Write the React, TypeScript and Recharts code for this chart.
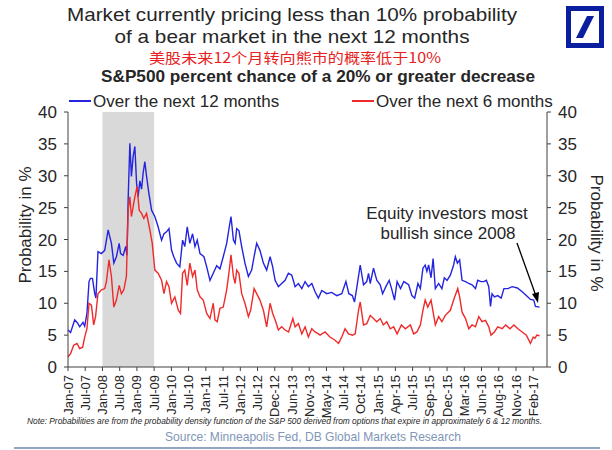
import React from "react";
import { ComposedChart, Line, XAxis, YAxis, ReferenceArea } from "recharts";

// category labels on the x axis (equally spaced, as in the source chart)
const tickLabels = [
  "Jan-07", "Jul-07", "Jan-08", "Jul-08", "Jan-09", "Jul-09", "Jan-10", "Jul-10",
  "Jan-11", "Jul-11", "Jan-12", "Jul-12", "Dec-12", "Jun-13", "Nov-13", "May-14",
  "Jul-14", "Oct-14", "Jan-15", "Apr-15", "Jul-15", "Sep-15", "Dec-15", "Mar-16",
  "Jun-16", "Aug-16", "Nov-16", "Feb-17",
];

const yTicks = [0, 5, 10, 15, 20, 25, 30, 35, 40];

// shaded recession band: Jan-08 .. Jul-09 (positions in tick units)
const bearStart = 2;
const bearEnd = 5;

// 12 month probability (position in tick units, value in %)
const blueX = [
  0, 0.15, 0.39, 0.55, 0.68, 0.87, 0.97, 1.1, 1.22, 1.3, 1.42, 1.55, 1.62, 1.74, 1.94, 2.13,
  2.33, 2.52, 2.66, 2.81, 2.97, 3.05, 3.2, 3.35, 3.42, 3.49, 3.59, 3.68, 3.78, 3.88, 3.98,
  4.07, 4.17, 4.27, 4.36, 4.46, 4.56, 4.69, 4.85, 5.04, 5.23, 5.43, 5.57, 5.72, 5.86, 6.01,
  6.14, 6.3, 6.49, 6.65, 6.78, 6.92, 7.07, 7.23, 7.37, 7.5, 7.66, 7.89, 8.05, 8.24, 8.43,
  8.63, 8.82, 9.01, 9.21, 9.36, 9.46, 9.6, 9.7, 9.79, 9.92, 10.08, 10.27, 10.47, 10.66,
  10.8, 10.95, 11.14, 11.34, 11.53, 11.73, 11.88, 12.02, 12.21, 12.4, 12.6, 12.79, 12.99,
  13.18, 13.37, 13.57, 13.76, 13.95, 14.15, 14.34, 14.53, 14.73, 15.02, 15.3, 15.6, 15.89,
  16.13, 16.3, 16.5, 16.63, 16.77, 16.96, 17.15, 17.34, 17.44, 17.54, 17.73, 17.92, 18.12,
  18.26, 18.45, 18.64, 18.8, 18.95, 19.1, 19.3, 19.49, 19.77, 19.96, 20.12, 20.31, 20.45,
  20.6, 20.73, 20.83, 20.93, 21.07, 21.19, 21.32, 21.51, 21.7, 21.84, 22.0, 22.19, 22.38,
  22.48, 22.6, 22.73, 22.87, 23.07, 23.26, 23.45, 23.65, 23.78, 23.97, 24.13, 24.28, 24.42,
  24.52, 24.61, 24.75, 24.94, 25.14, 25.3, 25.53, 25.78, 26.08, 26.36, 26.6, 26.84, 27.03,
  27.13, 27.37,
];
const blueY = [
  5.8, 5.4, 7.4, 6.9, 6.3, 7.0, 6.4, 8.4, 13.4, 13.9, 13.9, 11.5, 10.8, 18.1, 17.8, 18.3,
  21.5, 19.4, 16.3, 17.3, 19.4, 17.8, 17.5, 18.9, 17.5, 26.2, 35.1, 29.9, 33.0, 34.6, 28.8,
  26.7, 29.2, 27.9, 30.4, 32.2, 29.9, 27.3, 24.6, 23.6, 22.0, 19.9, 20.9, 21.2, 21.7, 18.3,
  17.3, 16.3, 15.7, 19.9, 18.9, 22.0, 19.4, 20.9, 18.9, 19.9, 17.8, 17.3, 15.7, 13.6, 14.7,
  15.9, 15.4, 17.3, 19.4, 22.0, 23.6, 19.9, 19.4, 21.7, 21.4, 18.9, 16.3, 14.2, 15.2,
  17.3, 19.4, 18.3, 16.3, 15.2, 17.3, 15.7, 13.6, 12.6, 13.1, 13.6, 14.7, 14.4,
  12.6, 13.1, 12.3, 13.4, 12.6, 13.1, 11.8, 10.8, 12.0, 11.5, 11.7, 11.2, 11.5,
  13.4, 11.5, 11.2, 10.2, 12.6, 16.0, 12.9, 13.4, 14.7, 13.1, 15.5, 13.6, 12.9,
  11.5, 12.6, 13.6, 12.1, 10.5, 13.4, 12.3, 13.4, 12.9, 11.2, 10.8, 13.1, 12.3,
  15.5, 16.0, 15.0, 16.0, 14.0, 17.0, 12.3, 13.1, 12.3, 14.0, 13.6, 14.4, 16.0,
  17.3, 16.3, 16.8, 13.6, 13.4, 13.1, 12.9, 12.3, 13.6, 13.4, 13.4, 13.6, 12.6,
  9.5, 11.5, 11.0, 11.2, 10.8, 12.3, 12.3, 12.6, 12.4, 11.8, 11.2, 10.6, 10.5,
  9.5, 9.4,
];

// 6 month probability
const redX = [
  0, 0.15, 0.33, 0.52, 0.68, 0.85, 0.97, 1.1, 1.22, 1.36, 1.49, 1.6, 1.74, 1.94, 2.13, 2.23,
  2.38, 2.52, 2.66, 2.81, 2.97, 3.1, 3.24, 3.39, 3.49, 3.59, 3.68, 3.88, 4.01, 4.13, 4.27,
  4.4, 4.56, 4.75, 4.89, 5.04, 5.23, 5.43, 5.57, 5.72, 5.86, 6.01, 6.2, 6.4, 6.53, 6.65,
  6.78, 6.92, 7.07, 7.23, 7.37, 7.5, 7.66, 7.85, 8.05, 8.24, 8.43, 8.53, 8.66, 8.82, 9.01,
  9.21, 9.36, 9.46, 9.6, 9.7, 9.79, 9.92, 10.08, 10.27, 10.47, 10.6, 10.8, 10.95, 11.14,
  11.34, 11.53, 11.73, 11.88, 12.02, 12.21, 12.4, 12.6, 12.8, 13.05, 13.18, 13.37, 13.57,
  13.76, 13.95, 14.15, 14.34, 14.53, 14.63, 14.92, 15.2, 15.5, 15.7, 15.89, 16.08, 16.28,
  16.51, 16.67, 16.86, 16.96, 17.15, 17.34, 17.54, 17.73, 17.92, 18.12, 18.3, 18.5, 18.7,
  18.9, 19.1, 19.35, 19.58, 19.87, 20.06, 20.25, 20.45, 20.6, 20.73, 20.88, 21.07, 21.32,
  21.51, 21.7, 21.9, 22.19, 22.38, 22.62, 22.73, 22.87, 23.07, 23.26, 23.45, 23.65, 23.84,
  24.03, 24.23, 24.42, 24.55, 24.75, 24.94, 25.2, 25.4, 25.65, 25.88, 26.11, 26.36, 26.6,
  26.84, 27.0, 27.1, 27.21, 27.37,
];
const redY = [
  1.6, 2.1, 3.4, 3.7, 2.9, 3.1, 4.7, 6.0, 10.0, 9.7, 6.6, 7.9, 11.5, 12.1, 12.3, 13.4,
  16.8, 14.2, 9.4, 10.5, 12.8, 11.5, 12.1, 14.2, 24.6, 26.7, 23.6, 26.7, 28.3, 24.6, 24.1,
  23.3, 24.1, 21.5, 19.4, 15.2, 14.7, 13.6, 11.5, 13.4, 12.6, 10.0, 11.0, 8.9, 8.4, 14.7,
  15.2, 12.8, 16.3, 14.2, 15.2, 12.1, 11.0, 10.5, 8.4, 7.6, 10.0, 7.4, 7.1, 9.2, 9.4,
  12.1, 15.2, 17.6, 14.2, 13.1, 15.2, 14.7, 11.5, 10.0, 7.9, 8.9, 12.3, 11.5, 10.5,
  8.9, 6.3, 10.0, 8.4, 7.4, 5.8, 6.3, 5.8, 5.5, 7.6, 6.3, 6.8, 5.2,
  6.3, 4.7, 6.0, 5.5, 5.2, 5.0, 5.5, 4.7, 4.2, 3.7, 4.7, 6.0, 5.2,
  5.0, 5.2, 8.9, 10.2, 6.6, 6.8, 8.1, 7.6, 7.1, 7.6, 6.6, 7.1, 6.0,
  6.3, 5.2, 6.6, 6.0, 6.6, 5.2, 5.5, 6.6, 8.9, 10.5, 9.4, 10.5, 6.6,
  7.9, 7.1, 8.1, 8.9, 10.5, 12.3, 11.0, 8.6, 7.6, 6.0, 6.6, 6.3, 7.9,
  7.1, 7.3, 6.3, 5.0, 5.5, 6.3, 6.0, 6.6, 6.0, 6.6, 6.0, 5.5, 5.0,
  3.7, 4.7, 4.5, 5.0, 4.9,
];

const blueData = blueX.map((t, i) => ({ t, v: blueY[i] }));
const redData = redX.map((t, i) => ({ t, v: redY[i] }));

const FONT = "'Liberation Sans', Arial, sans-serif";
const BLUE = "#2424e0";
const RED = "#f02a2a";
const INK = "#262626";

function DateTick({ x, y, payload }: any) {
  return (
    <text
      x={x}
      y={y}
      transform={`rotate(-90, ${x}, ${y})`}
      textAnchor="end"
      dy="0.35em"
      fontSize={13}
      fontFamily={FONT}
      fill={INK}
    >
      {tickLabels[payload.value]}
    </text>
  );
}

export default function App() {
  return (
    <div style={{ position: "relative", width: 612, height: 450, background: "#fff" }}>
      <style>{"body{margin:0}"}</style>
      <ComposedChart width={612} height={450} data={blueData} margin={{ top: 112, right: 0, bottom: 0, left: 0 }}>
        <ReferenceArea yAxisId="left" x1={bearStart} x2={bearEnd} y1={0} y2={40} fill="#d9d9d9" fillOpacity={1} stroke="none" />
        <XAxis
          dataKey="t"
          type="number"
          domain={[0, 27.8]}
          ticks={tickLabels.map((_, i) => i)}
          interval={0}
          height={83}
          tickSize={4}
          tickMargin={4}
          stroke="#404040"
          tick={<DateTick />}
        />
        <YAxis
          yAxisId="left"
          domain={[0, 40]}
          ticks={yTicks}
          width={68}
          tickSize={4}
          tickMargin={7}
          stroke="#404040"
          tick={{ fill: INK, fontSize: 17, fontFamily: FONT }}
        />
        <YAxis
          yAxisId="right"
          orientation="right"
          domain={[0, 40]}
          ticks={yTicks}
          width={65}
          tickSize={4}
          tickMargin={7}
          stroke="#404040"
          tick={{ fill: INK, fontSize: 17, fontFamily: FONT }}
        />
        <Line yAxisId="left" data={blueData} dataKey="v" type="linear" stroke={BLUE} strokeWidth={1.4} dot={false} isAnimationActive={false} />
        <Line yAxisId="right" data={redData} dataKey="v" type="linear" stroke={RED} strokeWidth={1.4} dot={false} isAnimationActive={false} />
      </ComposedChart>

      <svg width={612} height={450} style={{ position: "absolute", left: 0, top: 0, pointerEvents: "none" }} fontFamily={FONT}>
        <text x={292} y={21} textAnchor="middle" fontSize={19} fill={INK} textLength={450} lengthAdjust="spacingAndGlyphs">
          Market currently pricing less than 10% probability
        </text>
        <text x={292} y={42.5} textAnchor="middle" fontSize={19} fill={INK} textLength={355} lengthAdjust="spacingAndGlyphs">
          of a bear market in the next 12 months
        </text>
        <text x={295} y={63} textAnchor="middle" fontSize={14} fill="#e82020" fontFamily="'Noto Sans CJK SC', sans-serif" textLength={292} lengthAdjust="spacingAndGlyphs">
          美股未来12个月转向熊市的概率低于10%
        </text>
        <text x={318} y={81.5} textAnchor="middle" fontSize={17} fontWeight="bold" fill={INK} textLength={434} lengthAdjust="spacingAndGlyphs">
          S&amp;P500 percent chance of a 20% or greater decrease
        </text>

        {/* legend */}
        <line x1={69} y1={101} x2={91} y2={101} stroke={BLUE} strokeWidth={2} />
        <text x={93} y={107} fontSize={17} fill={INK}>Over the next 12 months</text>
        <line x1={352} y1={101} x2={374} y2={101} stroke={RED} strokeWidth={2} />
        <text x={376} y={107} fontSize={17} fill={INK}>Over the next 6 months</text>

        {/* axis titles */}
        <text transform="translate(31, 225) rotate(-90)" textAnchor="middle" fontSize={17} fill={INK}>Probability in %</text>
        <text transform="translate(591, 233) rotate(90)" textAnchor="middle" fontSize={17} fill={INK}>Probability in %</text>

        {/* annotation */}
        <text x={447} y={219} textAnchor="middle" fontSize={17} fill={INK}>Equity investors most</text>
        <text x={448} y={239} textAnchor="middle" fontSize={17} fill={INK}>bullish since 2008</text>
        <line x1={517} y1={243} x2={536} y2={296} stroke="#000" strokeWidth={1.3} />
        <polygon points="538,303 532,294 539,292" fill="#000" />

        {/* footer */}
        <text x={27} y={424} fontSize={9.5} fontStyle="italic" fill={INK} textLength={515} lengthAdjust="spacingAndGlyphs">
          Note: Probabilities are from the probability density function of the S&amp;P 500 derived from options that expire in approximately 6 &amp; 12 months.
        </text>
        <text x={313} y={441} textAnchor="middle" fontSize={13} fill="#8196b8" textLength={296} lengthAdjust="spacingAndGlyphs">
          Source: Minneapolis Fed, DB Global Markets Research
        </text>
        <line x1={14} y1={448} x2={600} y2={448} stroke="#6f86ad" strokeWidth={1.5} />

        {/* logo */}
        <rect x={566} y={6} width={38} height={42} fill="#0a1ea0" />
        <rect x={571} y={11} width={28} height={32} fill="#fff" />
        <polygon points="576,38 583,38 594,16 587,16" fill="#0a1ea0" />
      </svg>
    </div>
  );
}
